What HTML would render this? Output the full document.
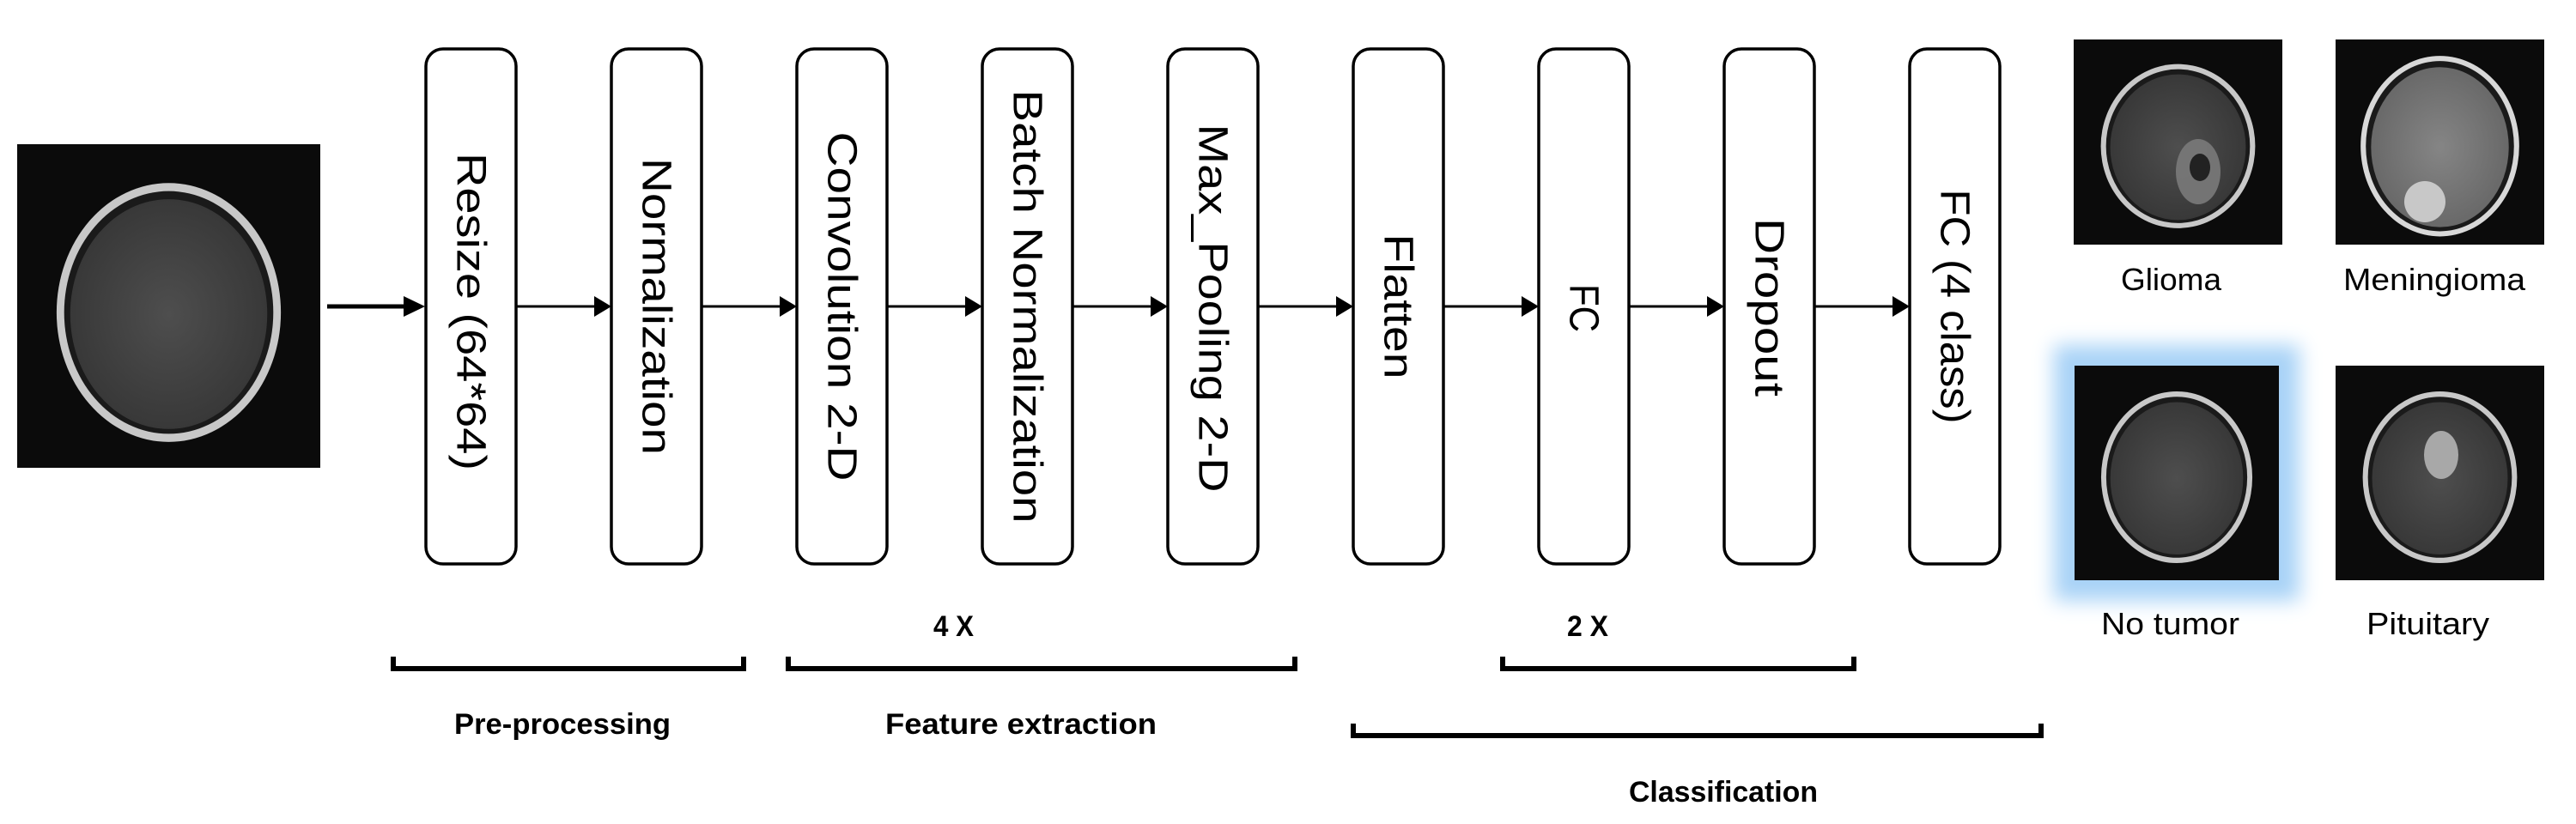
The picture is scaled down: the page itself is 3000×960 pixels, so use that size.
<!DOCTYPE html>
<html><head><meta charset="utf-8">
<style>
html,body{margin:0;padding:0;background:#fff;}
body{width:3000px;height:960px;position:relative;overflow:hidden;}
svg{position:absolute;left:0;top:0;}
.glow{position:absolute;left:2416px;top:426px;width:238px;height:250px;box-shadow:0 0 22px 24px #a9d3f7;background:#0b0b0b;}
</style></head>
<body>
<div class="glow"></div>
<svg width="3000" height="960" viewBox="0 0 3000 960" xmlns="http://www.w3.org/2000/svg">
<defs>
<radialGradient id="tis" cx="50%" cy="50%" r="55%">
<stop offset="0" stop-color="#4e4e4e"/><stop offset="1" stop-color="#363636"/>
</radialGradient>
<radialGradient id="tis2" cx="50%" cy="50%" r="55%">
<stop offset="0" stop-color="#858585"/><stop offset="1" stop-color="#666"/>
</radialGradient>
<g id="brain">
<rect x="0" y="0" width="1" height="1" fill="#0b0b0b"/>
<ellipse cx="0.5" cy="0.52" rx="0.37" ry="0.4" fill="#c8c8c8"/>
<ellipse cx="0.5" cy="0.52" rx="0.345" ry="0.375" fill="#1a1a1a"/>
<ellipse cx="0.5" cy="0.525" rx="0.325" ry="0.355" fill="url(#tis)"/>
</g>
<g id="brain2">
<rect x="0" y="0" width="1" height="1" fill="#0b0b0b"/>
<ellipse cx="0.5" cy="0.52" rx="0.38" ry="0.44" fill="#d8d8d8"/>
<ellipse cx="0.5" cy="0.52" rx="0.355" ry="0.415" fill="#1a1a1a"/>
<ellipse cx="0.5" cy="0.525" rx="0.33" ry="0.39" fill="url(#tis2)"/>
</g>
</defs>

<use href="#brain" transform="translate(20,168) scale(353,377)"/>

<use href="#brain" transform="translate(2415,46) scale(243,239)"/>
<ellipse cx="2560" cy="200" rx="26" ry="38" fill="#7a7a7a" opacity="0.9"/>
<ellipse cx="2562" cy="195" rx="12" ry="16" fill="#222"/>
<use href="#brain2" transform="translate(2720,46) scale(243,239)"/>
<circle cx="2824" cy="235" r="24" fill="#c8c8c8"/>
<use href="#brain" transform="translate(2416,426) scale(238,250)"/>
<use href="#brain" transform="translate(2720,426) scale(243,250)"/>
<ellipse cx="2843" cy="530" rx="20" ry="28" fill="#a8a8a8"/>

<line x1="381" y1="357" x2="474" y2="357" stroke="#000" stroke-width="5"/>
<polygon points="470,345 495,357 470,369" fill="#000"/>

<g fill="#fff" stroke="#000" stroke-width="3.5">
<rect x="496" y="57" width="105" height="600" rx="20"/>
<rect x="712" y="57" width="105" height="600" rx="20"/>
<rect x="928" y="57" width="105" height="600" rx="20"/>
<rect x="1144" y="57" width="105" height="600" rx="20"/>
<rect x="1360" y="57" width="105" height="600" rx="20"/>
<rect x="1576" y="57" width="105" height="600" rx="20"/>
<rect x="1792" y="57" width="105" height="600" rx="20"/>
<rect x="2008" y="57" width="105" height="600" rx="20"/>
<rect x="2224" y="57" width="105" height="600" rx="20"/>
</g>

<g stroke="#000" stroke-width="3">
<line x1="601" y1="357" x2="695" y2="357"/>
<line x1="817" y1="357" x2="911" y2="357"/>
<line x1="1033" y1="357" x2="1127" y2="357"/>
<line x1="1249" y1="357" x2="1343" y2="357"/>
<line x1="1465" y1="357" x2="1559" y2="357"/>
<line x1="1681" y1="357" x2="1775" y2="357"/>
<line x1="1897" y1="357" x2="1991" y2="357"/>
<line x1="2113" y1="357" x2="2207" y2="357"/>
</g>
<g fill="#000">
<polygon points="692,345 712,357 692,369"/>
<polygon points="908,345 928,357 908,369"/>
<polygon points="1124,345 1144,357 1124,369"/>
<polygon points="1340,345 1360,357 1340,369"/>
<polygon points="1556,345 1576,357 1556,369"/>
<polygon points="1772,345 1792,357 1772,369"/>
<polygon points="1988,345 2008,357 1988,369"/>
<polygon points="2204,345 2224,357 2204,369"/>
</g>

<g font-family="Liberation Sans, DejaVu Sans, sans-serif" font-size="48" fill="#000" text-anchor="middle" dominant-baseline="central">
<text transform="translate(548,363) rotate(90)" textLength="370" lengthAdjust="spacingAndGlyphs">Resize (64*64)</text>
<text transform="translate(764,357) rotate(90)" textLength="346" lengthAdjust="spacingAndGlyphs">Normalization</text>
<text transform="translate(980,357) rotate(90)" textLength="407" lengthAdjust="spacingAndGlyphs">Convolution 2-D</text>
<text transform="translate(1196,357) rotate(90)" textLength="505" lengthAdjust="spacingAndGlyphs">Batch Normalization</text>
<text transform="translate(1412,359) rotate(90)" textLength="429" lengthAdjust="spacingAndGlyphs">Max_Pooling 2-D</text>
<text transform="translate(1628,357) rotate(90)" textLength="169" lengthAdjust="spacingAndGlyphs">Flatten</text>
<text transform="translate(1844,359) rotate(90)" textLength="56" lengthAdjust="spacingAndGlyphs">FC</text>
<text transform="translate(2060,358) rotate(90)" textLength="208" lengthAdjust="spacingAndGlyphs">Dropout</text>
<text transform="translate(2276,357) rotate(90)" textLength="273" lengthAdjust="spacingAndGlyphs">FC (4 class)</text>
</g>

<g fill="none" stroke="#000" stroke-width="6" stroke-linejoin="miter">
<polyline points="458,765 458,779 866,779 866,765"/>
<polyline points="918,765 918,779 1508,779 1508,765"/>
<polyline points="1750,765 1750,779 2159,779 2159,765"/>
<polyline points="1576,843 1576,857 2377,857 2377,843"/>
</g>

<g font-family="Liberation Sans, sans-serif" font-weight="bold" font-size="34" fill="#000">
<text x="1087" y="741" textLength="47" lengthAdjust="spacingAndGlyphs">4 X</text>
<text x="1825" y="741" textLength="48" lengthAdjust="spacingAndGlyphs">2 X</text>
<text x="529" y="855" textLength="252" lengthAdjust="spacingAndGlyphs">Pre-processing</text>
<text x="1031" y="855" textLength="316" lengthAdjust="spacingAndGlyphs">Feature extraction</text>
<text x="1897" y="934" textLength="220" lengthAdjust="spacingAndGlyphs">Classification</text>
</g>

<g font-family="Liberation Sans, sans-serif" font-size="36" fill="#000">
<text x="2470" y="338" textLength="117" lengthAdjust="spacingAndGlyphs">Glioma</text>
<text x="2729" y="338" textLength="212" lengthAdjust="spacingAndGlyphs">Meningioma</text>
<text x="2447" y="739" textLength="161" lengthAdjust="spacingAndGlyphs">No tumor</text>
<text x="2756" y="739" textLength="143" lengthAdjust="spacingAndGlyphs">Pituitary</text>
</g>
</svg>
</body></html>
